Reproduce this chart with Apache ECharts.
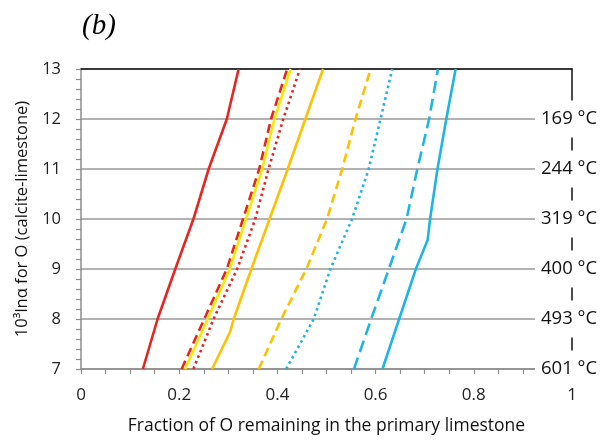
<!DOCTYPE html>
<html>
<head>
<meta charset="utf-8">
<script src="https://cdn.jsdelivr.net/npm/echarts@6/dist/echarts.min.js"></script>
<style>
  html, body { margin: 0; padding: 0; background: #fff; }
  #chart { width: 613px; height: 441px; }
</style>
</head>
<body>
<div id="chart"></div>
<script>
// [fraction remaining, 10^3 ln alpha]
const redSolid = [[0.126, 7], [0.156, 8], [0.192, 9], [0.229, 10], [0.260, 11], [0.297, 12], [0.321, 13]]
const redDashed = [[0.205, 7], [0.251, 8], [0.297, 9], [0.330, 10], [0.363, 11], [0.387, 12], [0.420, 13]]
const yellowSolid = [[0.212, 7], [0.258, 8], [0.303, 9], [0.336, 10], [0.369, 11], [0.394, 12], [0.427, 13]]
const redDotted = [[0.229, 7], [0.270, 8], [0.318, 9], [0.355, 10], [0.382, 11], [0.412, 12], [0.446, 13]]
const orangeSolid = [[0.267, 7], [0.304, 7.75], [0.311, 8], [0.347, 9], [0.384, 10], [0.421, 11], [0.457, 12], [0.493, 13]]
const orangeDashed = [[0.362, 7], [0.408, 8], [0.459, 9], [0.501, 10], [0.532, 11], [0.559, 12], [0.590, 13]]
const blueDotted = [[0.418, 7], [0.474, 8], [0.508, 9], [0.552, 10], [0.586, 11], [0.610, 12], [0.634, 13]]
const blueDashed = [[0.556, 7], [0.591, 8], [0.627, 9], [0.663, 10], [0.685, 11], [0.709, 12], [0.727, 13]]
const blueSolid = [[0.614, 7], [0.648, 8], [0.682, 9], [0.706, 9.58], [0.711, 10], [0.726, 11], [0.744, 12], [0.763, 13]]

// right axis: temperature for each 10^3 ln alpha tick
const tempTicks = [7, 8, 9, 10, 11, 12]
const tempLabels = ['601 °C', '493 °C', '400 °C', '319 °C', '244 °C', '169 °C']

const xTickLabels = ['0', '0.2', '0.4', '0.6', '0.8', '1']

const RED = '#e8261f'
const YELLOW = '#f7ea00'
const ORANGE = '#ffc000'
const BLUE = '#1eb4e6'
const FONT = "'Open Sans', sans-serif"

const chart = echarts.init(document.getElementById('chart'), null, { renderer: 'canvas' })

function line(data, color, type) {
    return {
        type: 'line',
        data,
        showSymbol: false,
        symbol: 'none',
        animation: false,
        lineStyle: { color, width: 2.6, type, cap: 'butt' },
        z: 3
    }
}

chart.setOption({
    textStyle: { fontFamily: FONT },
    title: {
        text: '(b)',
        left: 77,
        top: 7,
        textStyle: { fontFamily: "'Liberation Serif', serif", fontStyle: 'italic', fontWeight: 'normal', fontSize: 29, color: '#000' }
    },
    grid: { left: 81, right: 41, top: 69, bottom: 72 },
    xAxis: [{
        type: 'value',
        min: 0,
        max: 1,
        interval: 0.2,
        name: 'Fraction of O remaining in the primary limestone',
        nameLocation: 'middle',
        nameGap: 48,
        nameTextStyle: { fontSize: 17.5, color: '#111', fontFamily: FONT },
        axisLine: { onZero: false, lineStyle: { color: '#8c8c8c', width: 1.5 } },
        axisTick: { show: true, length: 5, lineStyle: { color: '#8c8c8c', width: 1.2 } },
        minorTick: { show: true, splitNumber: 4, length: 5, lineStyle: { color: '#8c8c8c', width: 1.2 } },
        splitLine: { show: false },
        axisLabel: {
            margin: 18,
            fontSize: 17,
            color: '#222',
            formatter: v => xTickLabels[Math.round(v / 0.2)] ?? ''
        }
    }, {
        type: 'value',
        position: 'top',
        min: 0,
        max: 1,
        axisLine: { show: true, onZero: false, lineStyle: { color: '#111', width: 1.5 } },
        axisTick: { show: false },
        axisLabel: { show: false },
        splitLine: { show: false }
    }],
    yAxis: [{
        type: 'value',
        min: 7,
        max: 13,
        interval: 1,
        name: '10³lnα for O (calcite-limestone)',
        nameLocation: 'middle',
        nameGap: 48,
        nameTextStyle: { fontSize: 16.5, color: '#111', fontFamily: FONT },
        axisLine: { show: true, onZero: false, lineStyle: { color: '#8c8c8c', width: 1.5 } },
        axisTick: { show: true, length: 5, lineStyle: { color: '#8c8c8c', width: 1.2 } },
        minorTick: { show: true, splitNumber: 5, length: 5, lineStyle: { color: '#8c8c8c', width: 1.2 } },
        splitLine: { show: true, lineStyle: { color: '#999', width: 1.5 } },
        axisLabel: { margin: 20, fontSize: 16.5, color: '#222' }
    }, {
        type: 'value',
        position: 'right',
        min: 7,
        max: 13,
        interval: 1,
        z: 5,
        axisLine: { show: true, onZero: false, lineStyle: { color: '#111', width: 1.5 } },
        axisTick: { show: false },
        splitLine: { show: false },
        axisLabel: {
            margin: -37,
            showMaxLabel: false,
            fontSize: 18.5,
            color: '#111',
            backgroundColor: '#fff',
            padding: [8, 12, 10, 6],
            formatter: v => {
                const i = tempTicks.indexOf(v)
                return i >= 0 ? tempLabels[i] : ''
            }
        }
    }],
    series: [
        line(redSolid, RED, 'solid'),
        line(redDashed, RED, [9, 5]),
        line(yellowSolid, YELLOW, 'solid'),
        line(redDotted, RED, [2.6, 3.4]),
        line(orangeSolid, ORANGE, 'solid'),
        line(orangeDashed, ORANGE, [9, 5]),
        line(blueDotted, BLUE, [2.6, 3.4]),
        line(blueDashed, BLUE, [12, 6]),
        line(blueSolid, BLUE, 'solid')
    ]
})
</script>
</body>
</html>
